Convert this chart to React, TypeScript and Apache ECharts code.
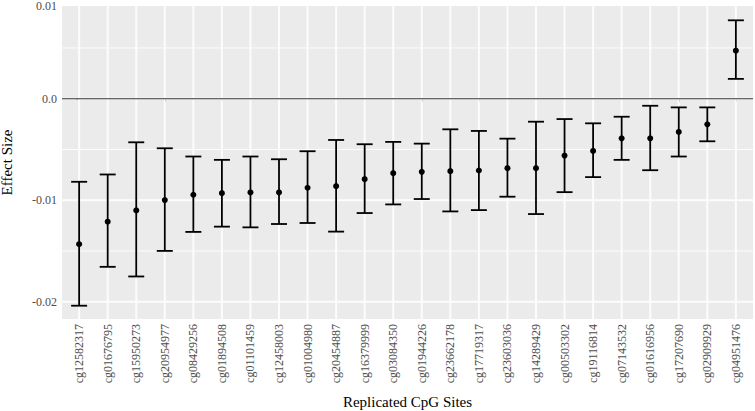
import React, { useEffect, useRef } from "react";
import * as echarts from "echarts";

const categories = [
  "cg12582317", "cg01676795", "cg15950273", "cg20954977", "cg08429256", "cg01894508",
  "cg01101459", "cg12458003", "cg01004980", "cg20454887", "cg16379999", "cg03084350",
  "cg01944226", "cg23662178", "cg17719317", "cg23603036", "cg14289429", "cg00503302",
  "cg19116814", "cg07143532", "cg01616956", "cg17207690", "cg02909929", "cg04951476",
];
const estimate = [
  -0.01433, -0.01211, -0.0110, -0.00998, -0.00946, -0.0093, -0.00923, -0.00923,
  -0.00877, -0.00861, -0.00792, -0.00733, -0.0072, -0.00713, -0.00707, -0.00684,
  -0.00684, -0.0056, -0.00514, -0.0039, -0.0039, -0.00327, -0.00252, 0.00474,
];
const lower = [
  -0.02039, -0.01656, -0.01751, -0.01499, -0.01312, -0.0126, -0.01267, -0.01234,
  -0.01224, -0.01309, -0.01126, -0.01041, -0.00988, -0.0111, -0.01097, -0.00965,
  -0.01136, -0.0092, -0.00772, -0.00602, -0.00704, -0.00569, -0.00419, 0.00196,
];
const upper = [
  -0.00818, -0.00746, -0.00429, -0.00488, -0.00569, -0.00602, -0.00569, -0.00596,
  -0.00517, -0.00406, -0.00448, -0.00425, -0.00442, -0.00301, -0.00317, -0.00393,
  -0.00226, -0.002, -0.00242, -0.00177, -0.00069, -0.00085, -0.00085, 0.00773,
];
const yTickValues = [-0.02, -0.01, 0.0, 0.01];
const yTickLabels = ["-0.02", "-0.01", "0.0", "0.01"];
const yMinorValues = [-0.015, -0.005, 0.005];
const refLine = [0];
const Y_MIN = -0.0217;
const Y_MAX = 0.00914;
const X_MIN = -0.6;
const X_MAX = categories.length - 1 + 0.6;
const CAP = 0.28;

const FONT = "Liberation Serif";
const GRID_COLOR = "#FCFCFC";

export default function App() {
  const ref = useRef<HTMLDivElement>(null);
  useEffect(() => {
    document.body.style.margin = "0";
    if (!ref.current) return;
    const chart = echarts.init(ref.current, null, { renderer: "svg" });
    const idx = categories.map((_, i) => i);
    const labelPositions = yTickValues.map((v) => Math.min(Math.max(v, Y_MIN), Y_MAX));
    const tickPositions = yTickValues.filter((v) => v >= Y_MIN && v <= Y_MAX);
    const data = categories.map((_, i) => [i, lower[i], estimate[i], upper[i]]);

    const hValues = [...yMinorValues, ...tickPositions];
    const hWidths = [...yMinorValues.map(() => 1), ...tickPositions.map(() => 2)];

    const hLineItem = (color: string, widths: number[] | number) => (params: any, api: any) => {
      const cs = params.coordSys;
      const y = api.coord([0, api.value(1)])[1];
      const w = Array.isArray(widths) ? widths[params.dataIndex] : widths;
      return {
        type: "line",
        shape: { x1: cs.x, y1: y, x2: cs.x + cs.width, y2: y },
        style: { stroke: color, lineWidth: w, opacity: 1 },
      };
    };

    chart.setOption({
      animation: false,
      grid: {
        left: 62,
        right: 2,
        top: 6,
        bottom: 92,
        show: true,
        backgroundColor: "#EBEBEB",
        borderWidth: 0,
        containLabel: false,
        outerBoundsMode: "none",
      },
      xAxis: {
        type: "value",
        min: X_MIN,
        max: X_MAX,
        name: "Replicated CpG Sites",
        nameLocation: "middle",
        nameGap: 75,
        nameTextStyle: { fontFamily: FONT, fontSize: 15, color: "#000" },
        axisLine: { show: false },
        splitLine: { show: false },
        axisTick: {
          show: true,
          length: 3,
          customValues: idx,
          lineStyle: { color: "#333", width: 1 },
        },
        axisLabel: {
          customValues: idx,
          rotate: 90,
          margin: 5,
          fontFamily: FONT,
          fontSize: 12,
          color: "#4D4D4D",
          formatter: (v: number) => categories[Math.round(v)] ?? "",
        },
      },
      yAxis: {
        type: "value",
        min: Y_MIN,
        max: Y_MAX,
        name: "Effect Size",
        nameLocation: "middle",
        nameGap: 48,
        nameTextStyle: { fontFamily: FONT, fontSize: 15, color: "#000" },
        axisLine: { show: false },
        splitLine: { show: false },
        axisTick: {
          show: true,
          length: 3,
          customValues: tickPositions,
          lineStyle: { color: "#333", width: 1 },
        },
        axisLabel: {
          customValues: labelPositions,
          margin: 5,
          fontFamily: FONT,
          fontSize: 12,
          color: "#4D4D4D",
          showMinLabel: true,
          showMaxLabel: true,
          formatter: (v: number) => {
            let best = 0;
            for (let i = 0; i < labelPositions.length; i++) {
              if (Math.abs(labelPositions[i] - v) < Math.abs(labelPositions[best] - v)) best = i;
            }
            return yTickLabels[best];
          },
        },
      },
      series: [
        {
          type: "custom",
          z: 3,
          silent: true,
          data: hValues.map((v) => [0, v]),
          encode: { x: 0, y: 1 },
          renderItem: hLineItem(GRID_COLOR, hWidths),
        },
        {
          type: "custom",
          z: 3,
          silent: true,
          data: idx.map((i) => [i, 0]),
          encode: { x: 0, y: 1 },
          renderItem: (params: any, api: any) => {
            const cs = params.coordSys;
            const x = api.coord([api.value(0), 0])[0];
            return {
              type: "line",
              shape: { x1: x, y1: cs.y, x2: x, y2: cs.y + cs.height },
              style: { stroke: GRID_COLOR, lineWidth: 2, opacity: 1 },
            };
          },
        },
        {
          type: "custom",
          z: 4,
          silent: true,
          data: refLine.map((v) => [0, v]),
          encode: { x: 0, y: 1 },
          renderItem: hLineItem("#333333", 1.1),
        },
        {
          type: "custom",
          z: 10,
          data,
          encode: { x: 0, y: [1, 2, 3] },
          renderItem: (params: any, api: any) => {
            const x = api.value(0);
            const lo = api.coord([x, api.value(1)]);
            const mid = api.coord([x, api.value(2)]);
            const hi = api.coord([x, api.value(3)]);
            const half = api.coord([x + CAP, api.value(1)])[0] - lo[0];
            const st = { stroke: "#000", lineWidth: 1.8 };
            return {
              type: "group",
              children: [
                { type: "line", shape: { x1: lo[0], y1: lo[1], x2: hi[0], y2: hi[1] }, style: st },
                { type: "line", shape: { x1: lo[0] - half, y1: lo[1], x2: lo[0] + half, y2: lo[1] }, style: st },
                { type: "line", shape: { x1: hi[0] - half, y1: hi[1], x2: hi[0] + half, y2: hi[1] }, style: st },
                { type: "circle", shape: { cx: mid[0], cy: mid[1], r: 3 }, style: { fill: "#000" } },
              ],
            };
          },
        },
      ],
    });
    return () => chart.dispose();
  }, []);
  return <div ref={ref} style={{ width: 755, height: 411 }} />;
}
